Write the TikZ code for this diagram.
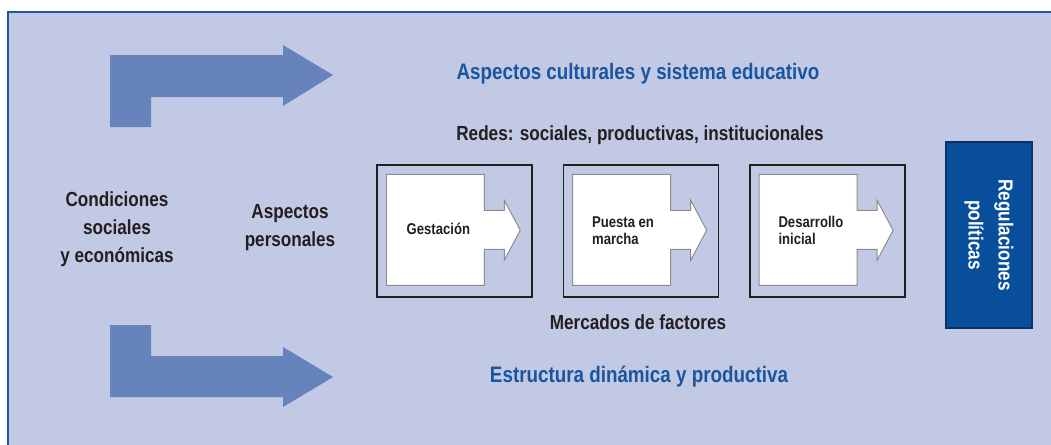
\documentclass[tikz,border=0pt]{standalone}
\usepackage{fontspec}
\setmainfont{Liberation Sans}[FakeStretch=0.84]
\usetikzlibrary{positioning}

\definecolor{panelBg}{RGB}{194,201,228}
\definecolor{panelLine}{RGB}{30,90,168}
\definecolor{arrowFill}{RGB}{102,131,188}
\definecolor{titleBlue}{RGB}{26,85,160}
\definecolor{regFill}{RGB}{8,78,155}
\definecolor{regLine}{RGB}{10,50,100}
\definecolor{darkText}{RGB}{35,31,32}

\tikzset{
  label/.style={text=darkText, align=center, inner sep=0pt, font=\bfseries\fontsize{10.2}{14}\selectfont},
  title/.style={text=titleBlue, inner sep=0pt, font=\bfseries\fontsize{11.2}{14}\selectfont},
  stagebox/.style={draw=darkText, line width=0.7pt, minimum width=77.5pt, minimum height=66pt, inner sep=0pt},
  stageshape/.style={draw=black!45, fill=white, line width=0.5pt},
  stagetext/.style={anchor=west, align=left, text=darkText, inner sep=0pt, font=\bfseries\fontsize{7.8}{8.5}\selectfont},
  regbox/.style={draw=regLine, fill=regFill, line width=0.7pt, text=white, align=center, minimum width=93pt, minimum height=43pt, inner sep=0pt, font=\bfseries\fontsize{10.2}{15}\selectfont}
}

\begin{document}
\begin{tikzpicture}[x=0.5pt, y=-0.5pt, node distance=15pt]
    \useasboundingbox (0,0) rectangle (1051,445);
    % fondo
    \fill [panelBg] (8,12) rectangle (1052,446);
    \draw [panelLine, line width=1pt] (8,446) -- (8,12) -- (1052,12);

    % flechas grandes
    \fill [arrowFill] (110,127) -- (110,55) -- (283,55) -- (283,45) -- (333,75) -- (283,106) -- (283,97) -- (151,97) -- (151,127) -- cycle;
    \fill [arrowFill] (110,325) -- (151,325) -- (151,356) -- (283,356) -- (283,347) -- (333,377) -- (283,407) -- (283,397) -- (110,397) -- cycle;

    \node (culturales) [title] at (638,74) {Aspectos culturales y sistema educativo};
    \node (estructura) [title] at (639,377) {Estructura dinámica y productiva};
    \node (redes) [label] at (640,135) {Redes: sociales, productivas, institucionales};
    \node (mercados) [label] at (638,322) {Mercados de factores};
    \node (condiciones) [label] at (117,229) {Condiciones\\sociales\\y económicas};
    \node (personales) [label] at (290,228) {Aspectos\\personales};

    % etapas
    \node (gest) [stagebox] at (454.5,231) {};
    \node (puesta) [stagebox, right=of gest] {};
    \node (desarr) [stagebox, right=of puesta] {};
    \foreach \b in {gest, puesta, desarr}
        \draw [stageshape] ([shift={(10,10)}]\b.north west) -- ++(98,0) -- ++(0,36) -- ++(20,0) -- ++(0,-10) -- ++(16,30) -- ++(-16,30) -- ++(0,-11) -- ++(-20,0) -- ++(0,36) -- ++(-98,0) -- cycle;
    \node (gestTxt) [stagetext] at ([shift={(30,65)}]gest.north west) {Gestación};
    \node (puestaTxt) [stagetext] at ([shift={(29,66)}]puesta.north west) {Puesta en\\marcha};
    \node (desarrTxt) [stagetext] at ([shift={(29,66)}]desarr.north west) {Desarrollo\\inicial};

    \node (regul) [regbox, rotate=-90] at (989,235) {Regulaciones\\políticas};
\end{tikzpicture}
\end{document}
